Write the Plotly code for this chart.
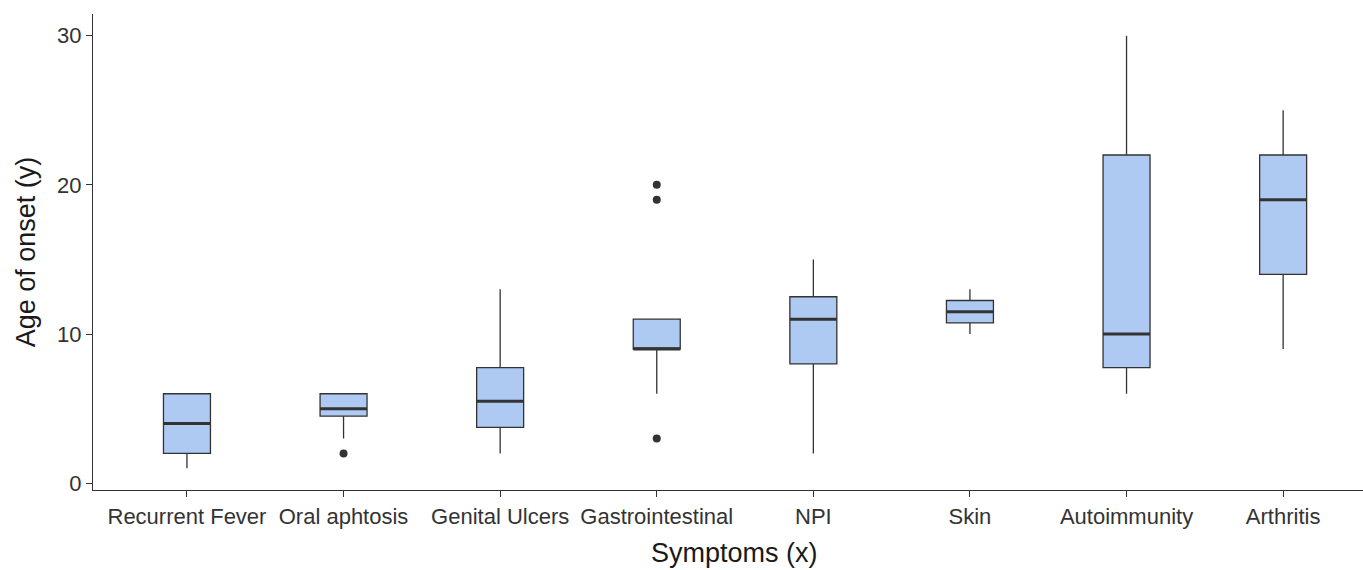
import plotly.graph_objects as go

categories = ["Recurrent Fever", "Oral aphtosis", "Genital Ulcers", "Gastrointestinal",
              "NPI", "Skin", "Autoimmunity", "Arthritis"]
q1 = [2, 4.5, 3.75, 9, 8, 10.75, 7.75, 14]
median = [4, 5, 5.5, 9, 11, 11.5, 10, 19]
q3 = [6, 6, 7.75, 11, 12.5, 12.25, 22, 22]
lower = [1, 3, 2, 6, 2, 10, 6, 9]
upper = [6, 6, 13, 11, 15, 13, 30, 25]
outlier_cat = ["Oral aphtosis", "Gastrointestinal", "Gastrointestinal", "Gastrointestinal"]
outlier_val = [2, 3, 19, 20]
y_ticks = [0, 10, 20, 30]

FONT = "Liberation Sans, Arial, Helvetica, sans-serif"
LINE = "#333333"
FILL = "#AEC9F2"
BOX_W = 0.3

pos = {c: i + 1 for i, c in enumerate(categories)}
xs = [pos[c] for c in categories]

fig = go.Figure()
fig.add_trace(go.Box(
    x=xs, q1=q1, median=median, q3=q3, lowerfence=lower, upperfence=upper,
    width=BOX_W, fillcolor=FILL, line=dict(color=LINE, width=1.3),
    whiskerwidth=0, boxpoints=False, showlegend=False, hoverinfo="skip",
))
# thicker median bars (ggplot fatten)
for c, m in zip(categories, median):
    fig.add_trace(go.Scatter(
        x=[pos[c] - BOX_W / 2, pos[c] + BOX_W / 2], y=[m, m], mode="lines",
        line=dict(color=LINE, width=3), showlegend=False, hoverinfo="skip",
    ))
fig.add_trace(go.Scatter(
    x=[pos[c] for c in outlier_cat], y=outlier_val, mode="markers",
    marker=dict(color=LINE, size=8), showlegend=False, hoverinfo="skip",
))

fig.update_layout(
    width=1363, height=570,
    margin=dict(l=93, r=0, t=14, b=80, autoexpand=False),
    plot_bgcolor="white", paper_bgcolor="white",
    font=dict(family=FONT, color=LINE),
    xaxis=dict(
        range=[0.4, 8.51], tickmode="array", tickvals=xs, ticktext=categories,
        showgrid=False, zeroline=False, showline=True, linecolor=LINE, linewidth=1.3,
        ticks="outside", ticklen=6, tickwidth=1.3, tickcolor=LINE,
        tickfont=dict(size=22, color="#333333", family=FONT),
    ),
    yaxis=dict(
        range=[-0.45, 31.45], tickmode="array", tickvals=y_ticks,
        showgrid=False, zeroline=False, showline=True, linecolor=LINE, linewidth=1.3,
        ticks="outside", ticklen=6, tickwidth=1.3, tickcolor=LINE,
        tickfont=dict(size=22, color="#333333", family=FONT),
        title=dict(text="Age of onset (y)", font=dict(size=27, color="#1a1a1a", family=FONT), standoff=13),
    ),
    annotations=[dict(
        text="Symptoms (x)", xref="paper", yref="paper", x=0.505, y=0, yshift=-63,
        xanchor="center", yanchor="middle", showarrow=False,
        font=dict(size=27, color="#1a1a1a", family=FONT),
    )],
)

fig.write_html("out.html", config={"displayModeBar": False},
               post_script="document.body.style.margin='0';document.body.style.overflow='hidden';")
